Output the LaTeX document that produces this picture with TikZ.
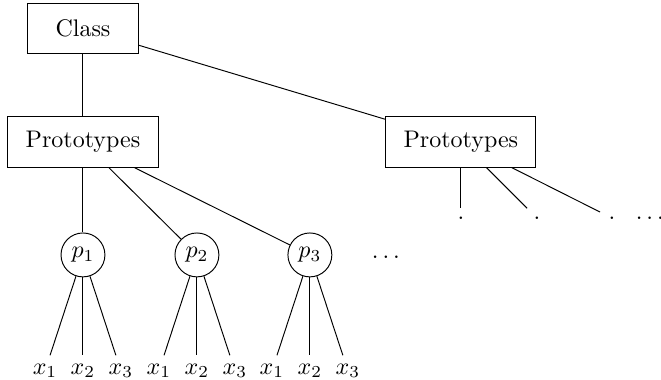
\documentclass[tikz,border=0pt]{standalone}
\begin{document}
\begin{tikzpicture}[thin,
    box/.style={draw, rectangle, minimum height=21pt, minimum width=46pt, inner xsep=7.4pt},
    proto/.style={draw, circle, minimum size=18.3pt, inner sep=1pt}]
\useasboundingbox (0,0) rectangle (9.68,-5.56);

% Klasse und Prototyp-Mengen
\node[box] (C)  at (1.215, -0.417) {Class};
\node[box] (PL) at (1.215, -2.079) {Prototypes};
\node[box] (PR) at (6.749, -2.079) {Prototypes};

\draw (C) -- (PL);
\draw (C) -- (PR);

% Prototypen (links)
\node[proto] (p1) at (1.215, -3.733) {$p_1$};
\node[proto] (p2) at (2.884, -3.733) {$p_2$};
\node[proto] (p3) at (4.538, -3.733) {$p_3$};
\node        (pd) at (5.651, -3.762) {$\ldots$};

\draw (PL) -- (p1);
\draw (PL) -- (p2);
\draw (PL) -- (p3);

% Punkte (rechts)
\node (r1) at (6.749, -3.192) {.};
\node (r2) at (7.862, -3.192) {.};
\node (r3) at (8.960, -3.192) {.};
\node (rd) at (9.516, -3.192) {$\ldots$};

\draw (PR) -- (r1);
\draw (PR) -- (r2);
\draw (PR) -- (r3);

% Datenpunkte unter p1, p2, p3
\node (x11) at (0.659, -5.429) {$x_1$};
\node (x12) at (1.215, -5.429) {$x_2$};
\node (x13) at (1.771, -5.429) {$x_3$};
\node (x21) at (2.328, -5.429) {$x_1$};
\node (x22) at (2.884, -5.429) {$x_2$};
\node (x23) at (3.440, -5.429) {$x_3$};
\node (x31) at (3.982, -5.429) {$x_1$};
\node (x32) at (4.538, -5.429) {$x_2$};
\node (x33) at (5.095, -5.429) {$x_3$};

\draw (p1) -- (x11);  \draw (p1) -- (x12);  \draw (p1) -- (x13);
\draw (p2) -- (x21);  \draw (p2) -- (x22);  \draw (p2) -- (x23);
\draw (p3) -- (x31);  \draw (p3) -- (x32);  \draw (p3) -- (x33);

\end{tikzpicture}
\end{document}
